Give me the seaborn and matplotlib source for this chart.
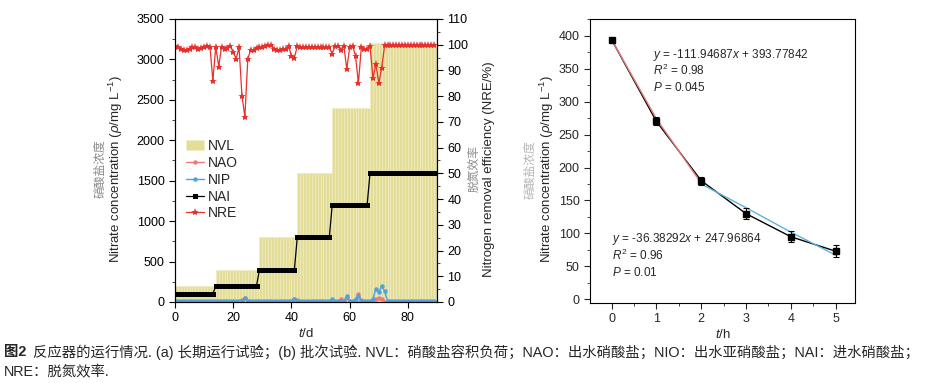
import numpy as np
import pandas as pd
import matplotlib
matplotlib.use("Agg")
import matplotlib.pyplot as plt
from matplotlib.ticker import MultipleLocator
import seaborn as sns

sns.set_style("ticks")
plt.rcParams['font.family'] = ['Liberation Sans', 'Noto Sans CJK SC', 'DejaVu Sans']
plt.rcParams['mathtext.fontset'] = 'custom'
plt.rcParams['mathtext.it'] = 'Liberation Sans:italic'
plt.rcParams['mathtext.rm'] = 'Liberation Sans'
plt.rcParams['axes.unicode_minus'] = False

TICK_SIZE = 9
LABEL_SIZE = 9.5
CN_GRAY = '#8a8a8a'

# (a) long-term operation, one value per day
days = list(range(90))
nvl = [200] * 14 + [400] * 15 + [800] * 13 + [1600] * 12 + [2400] * 13 + [3200] * 23
nai = [100] * 14 + [200] * 15 + [400] * 13 + [800] * 12 + [1200] * 13 + [1600] * 23
nre = [99.5, 99.0, 98.5, 98.0, 98.0, 98.5, 99.0, 99.0, 98.5, 98.8,
       99.3, 99.5, 99.3, 86.0, 99.3, 91.5, 99.3, 98.5, 98.8, 99.5,
       97.0, 94.5, 99.0, 80.0, 72.0, 94.5, 98.0, 98.0, 98.8, 99.0,
       99.3, 99.6, 99.8, 100.0, 98.2, 98.0, 98.0, 98.2, 98.5, 99.6,
       95.5, 95.0, 99.4, 99.0, 99.0, 99.0, 99.0, 99.0, 99.0, 99.0,
       99.0, 99.0, 99.0, 99.0, 96.5, 99.5, 99.6, 98.0, 99.6, 90.5,
       99.0, 99.6, 95.7, 85.0, 99.0, 98.5, 98.5, 99.5, 87.0, 92.5,
       85.0, 91.0, 99.7, 99.7, 99.7, 99.7, 99.7, 99.7, 99.7, 99.7,
       99.7, 99.7, 99.7, 99.7, 99.7, 99.7, 99.7, 99.7, 99.7, 99.7]
nao = [5] * 90
for d, v in {23: 30, 24: 55, 25: 10, 41: 40, 42: 20, 57: 35, 59: 50,
             63: 100, 64: 20, 69: 40, 70: 45, 71: 40}.items():
    nao[d] = v
nip = [12] * 90
for d, v in {24: 55, 41: 40, 54: 35, 59: 78, 62: 40, 63: 75, 68: 40,
             69: 165, 70: 120, 71: 200, 72: 135}.items():
    nip[d] = v

# (b) batch test
hours = [0, 1, 2, 3, 4, 5]
nitrate = [394, 270, 180, 130, 95, 73]
nitrate_err = [3, 6, 6, 8, 8, 9]
fit1_x = [0, 1, 2]
fit1_y = [394, 274, 176]
fit2_x = [2, 3, 4, 5]
fit2_y = [175, 139, 102, 67]

fig = plt.figure(figsize=(9.4, 3.83), dpi=100)
ax = fig.add_axes([0.1862, 0.2115, 0.2787, 0.7389])
ax2 = ax.twinx()

# NVL bars
bin_edges = days + [days[-1] + 1]
sns.histplot(x=days, weights=nvl, bins=bin_edges, ax=ax, color='#e3dd97',
             edgecolor='#efecc4', linewidth=0.4, alpha=1, element='bars', fill=True)
sns.lineplot(x=days, y=nao, ax=ax, color='#f07a78', marker='o', markersize=3.2,
             markeredgewidth=0, linewidth=1.0, label='NAO', legend=False)
sns.lineplot(x=days, y=nip, ax=ax, color='#4da3dc', marker='o', markersize=3.2,
             markeredgewidth=0, linewidth=1.0, label='NIP', legend=False)
sns.lineplot(x=days, y=nai, ax=ax, color='black', marker='s', markersize=3.6,
             markeredgewidth=0, linewidth=0.9, label='NAI', legend=False)
sns.lineplot(x=days, y=nre, ax=ax2, color='#e8302c', marker='*', markersize=6,
             markeredgewidth=0, linewidth=0.9, label='NRE', legend=False)

ax.set_xlim(0, 90)
ax.set_ylim(0, 3500)
ax2.set_ylim(0, 110)
ax.xaxis.set_major_locator(MultipleLocator(20))
ax.yaxis.set_major_locator(MultipleLocator(500))
ax.yaxis.set_minor_locator(MultipleLocator(250))
ax2.yaxis.set_major_locator(MultipleLocator(10))
ax2.yaxis.set_minor_locator(MultipleLocator(5))
ax.set_xlabel('$t$/d', fontsize=LABEL_SIZE, labelpad=2)
ax.set_ylabel('')
ax2.set_ylabel('')

ax.text(-0.225, 0.47, 'Nitrate concentration ($\\rho$/mg L$^{-1}$)', transform=ax.transAxes,
        rotation=90, ha='center', va='center', fontsize=LABEL_SIZE)
ax.text(-0.285, 0.47, '硝酸盐浓度', transform=ax.transAxes, rotation=90,
        ha='center', va='center', fontsize=8.5, color=CN_GRAY)
ax2.text(1.2, 0.47, 'Nitrogen removal efficiency (NRE/%)', transform=ax.transAxes,
         rotation=90, ha='center', va='center', fontsize=LABEL_SIZE)
ax2.text(1.145, 0.47, '脱氮效率', transform=ax.transAxes, rotation=90,
         ha='center', va='center', fontsize=8.5, color=CN_GRAY)

handles = [ax.patches[0], ax.lines[0], ax.lines[1], ax.lines[2], ax2.lines[0]]
labels = ['NVL', 'NAO', 'NIP', 'NAI', 'NRE']
ax.legend(handles, labels, loc='upper left', bbox_to_anchor=(0.02, 0.595), frameon=False,
          fontsize=10, handlelength=1.3, handletextpad=0.3, labelspacing=0.2,
          borderaxespad=0)

for a in (ax, ax2):
    a.tick_params(axis='both', which='major', labelsize=TICK_SIZE, length=4, width=0.8,
                  direction='out', colors='black')
    a.tick_params(axis='both', which='minor', length=2, width=0.6, direction='out')
    for s in a.spines.values():
        s.set_visible(True)
        s.set_color('black')
        s.set_linewidth(0.8)

# (b) batch test panel
bx = fig.add_axes([0.6277, 0.2097, 0.2819, 0.7403])
sns.lineplot(x=hours, y=nitrate, ax=bx, color='black', linewidth=1.0, zorder=2)
sns.lineplot(x=fit1_x, y=fit1_y, ax=bx, color='#e07a78', linewidth=1.0, zorder=3)
sns.lineplot(x=fit2_x, y=fit2_y, ax=bx, color='#5db3dc', linewidth=1.0, zorder=3)
bx.errorbar(hours, nitrate, yerr=nitrate_err, fmt='s', color='black', markersize=5,
            capsize=2.5, elinewidth=0.8, capthick=0.8, zorder=4)

bx.set_xlim(-0.48, 5.43)
bx.set_ylim(-5, 425)
bx.xaxis.set_major_locator(MultipleLocator(1))
bx.xaxis.set_minor_locator(MultipleLocator(0.5))
bx.yaxis.set_major_locator(MultipleLocator(50))
bx.yaxis.set_minor_locator(MultipleLocator(25))
bx.tick_params(axis='both', which='major', labelsize=TICK_SIZE, length=4, width=0.8,
               direction='out', top=False, right=False)
bx.tick_params(axis='both', which='minor', length=2, width=0.6, direction='out',
               top=False, right=False)
for s in bx.spines.values():
    s.set_visible(True)
    s.set_color('black')
    s.set_linewidth(0.8)
bx.set_xlabel('$t$/h', fontsize=LABEL_SIZE, labelpad=2)
bx.set_ylabel('')
bx.text(-0.162, 0.47, 'Nitrate concentration ($\\rho$/mg L$^{-1}$)', transform=bx.transAxes,
        rotation=90, ha='center', va='center', fontsize=LABEL_SIZE)
bx.text(-0.226, 0.47, '硝酸盐浓度', transform=bx.transAxes, rotation=90,
        ha='center', va='center', fontsize=8.5, color='#b5b5b5')

ANN = 8.5
bx.text(0.93, 370, '$y$ = -111.94687$x$ + 393.77842', fontsize=ANN, va='center')
bx.text(0.93, 347, '$R^2$ = 0.98', fontsize=ANN, va='center')
bx.text(0.93, 322, '$P$ = 0.045', fontsize=ANN, va='center')
bx.text(0.01, 91, '$y$ = -36.38292$x$ + 247.96864', fontsize=ANN, va='center')
bx.text(0.01, 66, '$R^2$ = 0.96', fontsize=ANN, va='center')
bx.text(0.01, 41, '$P$ = 0.01', fontsize=ANN, va='center')

# caption
CAP = 10.35
fig.text(0.004, 0.081, '图2', fontsize=CAP, fontweight='bold', va='center')
fig.text(0.035, 0.081, '反应器的运行情况. (a) 长期运行试验；(b) 批次试验. NVL：硝酸盐容积负荷；'
         'NAO：出水硝酸盐；NIO：出水亚硝酸盐；NAI：进水硝酸盐；',
         fontsize=CAP, va='center')
fig.text(0.004, 0.027, 'NRE：脱氮效率.', fontsize=CAP, va='center')

fig.savefig('out.png', dpi=100)
